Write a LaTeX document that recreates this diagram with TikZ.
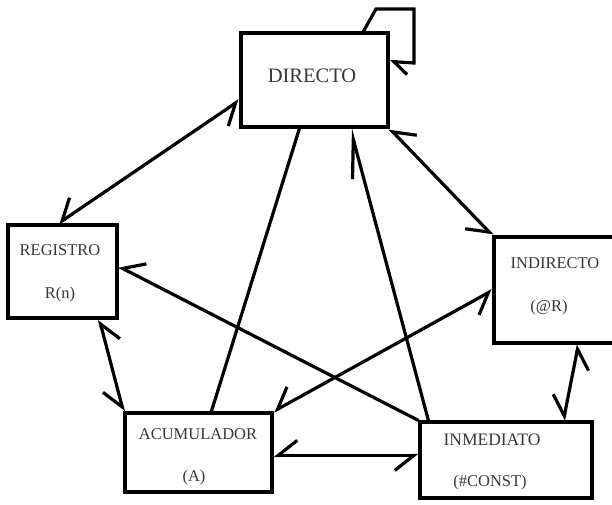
\documentclass[tikz,border=0pt]{standalone}
\usepackage{fontspec}
\setmainfont{Liberation Serif}
\usetikzlibrary{arrows.meta,calc}
\begin{document}
\begin{tikzpicture}[x=1pt,y=-1pt,
  box/.style={draw=black,line width=3.2pt,minimum width=#1,inner sep=0pt},
  lbl/.style={text=black!78,font=\fontsize{16.5}{18}\selectfont,inner sep=0pt},
  con/.style={line width=3.2pt,line cap=round},
  bar/.tip={Straight Barb[harpoon,swap,length=19pt,width=30pt,line width=3.2pt]},
  barl/.tip={Straight Barb[harpoon,length=14pt,width=24pt,line width=3.2pt]},
  barv/.tip={Straight Barb[harpoon,length=38pt,width=22pt,line width=3.2pt]}]
\useasboundingbox (0,0) rectangle (612,504);
\fill[white] (0,0) rectangle (612,504);
\clip (0,0) rectangle (612,504);
% boxes
\node[box=147pt,minimum height=94pt] (dir) at (314.5,80) {};
\node[box=109pt,minimum height=93pt] (reg) at (62.5,271.5) {};
\node[box=131pt,minimum height=106pt] (ind) at (559.5,290) {};
\node[box=147pt,minimum height=79pt] (acu) at (198.5,452.5) {};
\node[box=172pt,minimum height=76pt] (inm) at (506,460) {};
% labels
\node[lbl,font=\fontsize{20.5}{22}\selectfont] (tdir) at (312,76) {DIRECTO};
\node[lbl] (treg1) at (60,250) {REGISTRO};
\node[lbl] (treg2) at (60,295) {R(n)};
\node[lbl] (tind1) at (555,263) {INDIRECTO};
\node[lbl] (tind2) at (549,308) {(@R)};
\node[lbl] (tacu1) at (198,434) {ACUMULADOR};
\node[lbl] (tacu2) at (194,478) {(A)};
\node[lbl,font=\fontsize{17.5}{19}\selectfont] (tinm1) at (492,440) {INMEDIATO};
\node[lbl] (tinm2) at (490,483) {(\#CONST)};
% attachment points
\coordinate (dirL) at ($(dir.north west)+(0,69)$);
\coordinate (dirB1) at ($(dir.south west)+(60,0)$);
\coordinate (dirB2) at ($(dir.south west)+(111,0)$);
\coordinate (dirT) at ($(dir.north west)+(124,0)$);
\coordinate (dirR) at ($(dir.north east)+(0,30)$);
\coordinate (regT) at ($(reg.north west)+(52,0)$);
\coordinate (regB) at ($(reg.south west)+(93,0)$);
\coordinate (regR) at ($(reg.north east)+(0,43)$);
\coordinate (indL) at ($(ind.north west)+(0,55)$);
\coordinate (indB) at ($(ind.south west)+(86,0)$);
\coordinate (acuT) at ($(acu.north west)+(88,0)$);
\coordinate (acuR) at ($(acu.north east)+(0,44)$);
\coordinate (inmT) at ($(inm.north west)+(10,0)$);
\coordinate (inmT2) at ($(inm.north west)+(145,0)$);
\coordinate (inmL) at ($(inm.north west)+(0,35)$);
\coordinate (l1) at (376,9);
\coordinate (l2) at (414,9);
\coordinate (l3) at (414,63);
% connectors
\draw[con,bar-bar] (regT) -- (dirL);
\draw[con,bar-bar] (dir.south east) -- (ind.north west);
\draw[con] (dirB1) -- (acuT);
\draw[con,-barv] (inmT) -- (dirB2);
\draw[con,bar-bar] (regB) -- (acu.north west);
\draw[con,-bar] (inm.north west) -- (regR);
\draw[con,bar-bar] (acu.north east) -- (indL);
\draw[con,bar-bar] (indB) -- (inmT2);
\draw[con,bar-bar] (acuR) -- (inmL);
\draw[con,line cap=butt,-barl] (dirT) -- (l1) -- (l2) -- (l3) -- (dirR);
\end{tikzpicture}
\end{document}
